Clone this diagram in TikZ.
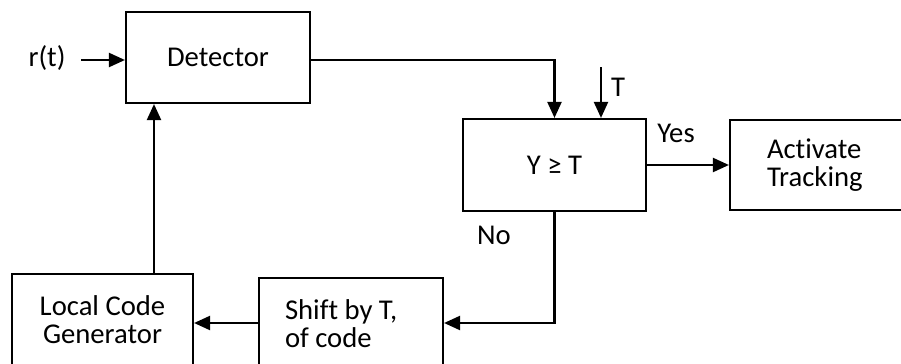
\documentclass[tikz,border=0pt]{standalone}
\usepackage{fontspec}
\setmainfont{Carlito}[Ligatures=NoCommon]
\usetikzlibrary{arrows.meta}
\begin{document}
\begin{tikzpicture}[x=0.75pt,y=-0.75pt,
  blk/.style={draw=black,line width=1.6pt,fill=white,inner sep=0pt,
    font=\fontsize{21.5pt}{21pt}\selectfont},
  lbl/.style={inner sep=0pt,font=\fontsize{21.5pt}{21pt}\selectfont},
  arr/.style={line width=1.6pt,-{Triangle[length=12pt,width=10.5pt]}},
  ln/.style={line width=1.6pt}]
\useasboundingbox (0,0) rectangle (901,364);
\clip (0,0) rectangle (901,364);
\fill[white] (0,0) rectangle (901,364);
% blocks
\node[blk,minimum width=138pt,minimum height=68.25pt] (det) at (218,57.5) {Detector};
\node[blk,minimum width=137.25pt,minimum height=69pt] (cmp) at (554.5,165) {Y ≥ T\hspace{7pt}};
\node[blk,minimum height=67.5pt,inner xsep=27.75pt,text width=75pt,align=flush left] (act) at (817,165) {Activate\\Tracking};
\node[blk,minimum width=135.75pt,minimum height=69pt,align=center] (loc) at (102.5,320) {Local Code\\Generator};
\node[blk,minimum height=69pt,inner xsep=19.5pt,text width=99pt,align=flush left] (shf) at (351,324) {Shift by T,\\of code};
% labels
\node[lbl] (rt) at (47,58) {r(t)};
\node[lbl] (tl) at (618,87) {T};
\node[lbl] (yes) at (676,133) {Yes};
\node[lbl] (no) at (494,235) {No};
% coordinates
\coordinate (rs) at (81,60);
\coordinate (ts) at (601,67);
\coordinate (fb) at (154,200);
% connectors
\draw[arr] (rs) -- (rs -| det.west);
\draw[arr] (det.east |- rs) -| (cmp.north);
\draw[arr] (ts) -- (ts |- cmp.north);
\draw[arr] (cmp.east) -- (act.west);
\draw[arr] (cmp.south) |- ([yshift=0.75pt]shf.east);
\draw[arr] ([yshift=0.75pt]shf.west) -- ([yshift=0.75pt]shf.west -| loc.east);
\draw[arr] (fb |- loc.north) -- (fb |- det.south);
\end{tikzpicture}
\end{document}
